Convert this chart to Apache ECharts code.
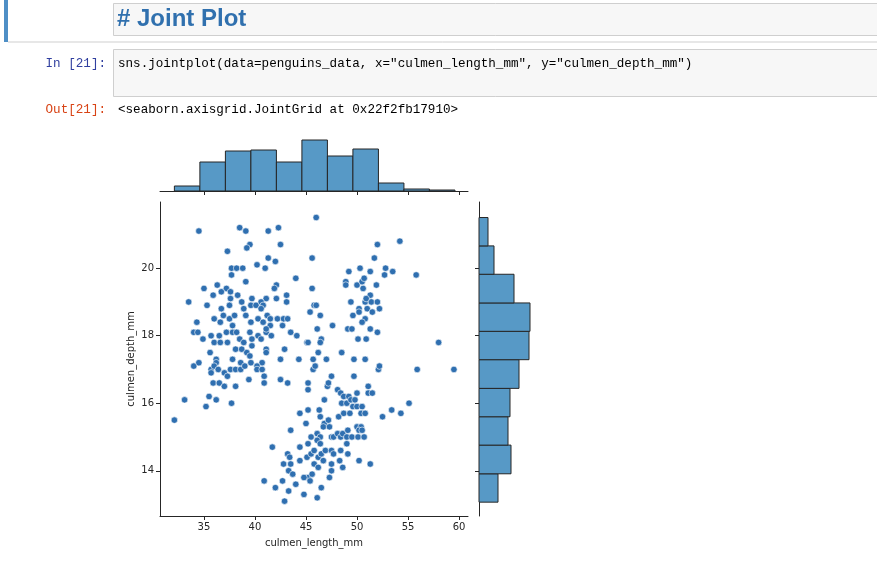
<!DOCTYPE html>
<html>
<head>
<meta charset="utf-8">
<script src="https://cdn.jsdelivr.net/npm/echarts@6/dist/echarts.min.js"></script>
<style>
  html, body { margin: 0; padding: 0; background: #fff; }
  #main { width: 877px; height: 572px; }
</style>
</head>
<body>
<div id="main"></div>
<script>
// culmen_length_mm, culmen_depth_mm
var points = [
  [34.5,21.1],[38.5,21.2],[39.1,21.1],[41.3,21.1],[42.3,21.2],[39.5,20.7],[39.2,20.6],[42.5,20.7],
  [37.3,20.5],[41.3,20.3],[42.0,20.2],[40.2,20.1],[37.7,20.0],[38.2,20.0],[38.8,20.0],[41.0,20.0],
  [37.7,19.8],[44.0,19.7],[39.1,19.6],[42.1,19.5],[41.9,19.4],[35.0,19.4],[36.3,19.5],[37.2,19.4],
  [37.6,19.3],[36.7,19.3],[35.9,19.2],[38.3,19.2],[43.1,19.2],[33.5,19.0],[37.6,19.1],[38.7,19.0],
  [39.7,19.1],[42.1,19.1],[41.1,19.1],[40.6,19.0],[43.1,19.0],[35.3,18.9],[37.5,18.9],[39.6,18.9],
  [40.1,18.9],[40.8,18.9],[36.7,18.8],[38.9,18.8],[40.6,18.8],
  [36.0,18.5],[36.9,18.6],[36.6,18.4],[37.5,18.5],[38.0,18.6],[39.1,18.6],[39.6,18.4],[40.3,18.5],
  [40.8,18.4],[41.2,18.6],[41.5,18.5],[42.2,18.5],[42.8,18.5],[43.2,18.5],[41.5,18.3],[42.7,18.3],
  [34.3,18.4],[34.0,18.1],[34.4,18.1],[35.7,18.0],[36.5,18.0],[37.2,18.1],[37.8,18.1],[38.2,18.1],
  [39.5,18.1],[40.3,18.0],[41.1,18.1],[43.5,18.1],[44.1,18.0],[37.8,18.3],[34.9,17.9],[36.0,17.8],
  [36.6,17.8],[37.3,17.8],[38.5,17.9],[38.9,17.8],[39.7,17.9],[39.7,17.7],[40.6,17.9],[41.6,18.0],
  [41.1,18.2],[45.1,17.8],[35.6,17.5],[38.1,17.6],[38.7,17.6],[39.2,17.5],[41.1,17.6],[41.1,17.5],
  [42.9,17.6],[34.0,17.1],[34.5,17.2],[36.2,17.3],[36.2,17.2],[37.8,17.3],[38.6,17.2],[39.6,17.2],
  [39.5,17.4],[40.7,17.2],[42.5,17.3],[44.3,17.3],[35.7,17.0],[36.0,17.1],[36.4,17.0],[37.6,17.0],
  [38.1,17.0],[38.6,17.0],[39.0,17.1],[40.2,17.1],[40.2,17.0],[40.7,17.0],[35.7,16.9],[37.0,16.9],
  [37.3,16.8],[40.9,16.8],[35.9,16.6],[36.5,16.6],[37.0,16.5],[38.1,16.5],[39.4,16.7],[40.9,16.6],
  [42.5,16.7],[43.2,16.6],[45.2,16.6],[45.2,16.4],[35.5,16.2],[36.2,16.1],[37.7,16.0],[33.1,16.1],
  [35.2,15.9],[32.1,15.5],
  [46.0,21.5],[52.0,20.7],[54.2,20.8],[45.6,20.3],[51.7,20.3],[49.2,19.9],[50.3,20.0],[51.3,19.9],
  [52.8,20.0],[53.5,19.9],[52.7,19.8],[55.8,19.8],[45.6,19.4],[48.9,19.6],[48.9,19.5],[50.0,19.5],
  [50.5,19.6],[50.7,19.7],[50.6,19.4],[51.9,19.5],[49.4,19.0],[50.8,19.0],[51.3,19.2],[51.4,19.0],
  [52.0,19.0],[50.9,19.1],[45.8,18.9],[46.0,18.9],[45.4,18.7],[46.4,18.6],[50.2,18.8],[50.2,18.7],
  [51.0,18.8],[51.5,18.7],[52.2,18.8],[49.6,18.6],[50.8,18.5],[50.5,18.4],[46.1,18.2],[47.6,18.3],
  [49.1,18.2],[49.5,18.2],[51.3,18.2],[52.0,18.1],[50.1,17.9],[50.9,17.9],[45.2,17.8],[46.5,17.9],
  [46.4,17.8],[48.5,17.5],[46.2,17.5],[58.0,17.8],[45.7,17.3],[47.0,17.3],[49.7,17.3],[50.8,17.3],
  [59.5,17.0],[45.7,17.0],[45.9,17.1],[47.5,16.8],[49.7,16.8],[52.1,17.0],[52.2,17.1],[55.9,17.0],
  [47.1,16.5],[47.2,16.6],[48.1,16.4],[48.4,16.3],[48.7,16.2],[49.2,16.2],[50.0,16.3],[51.1,16.5],
  [51.1,16.3],[51.5,16.3],[46.8,16.1],[48.5,16.0],[49.0,16.0],[49.4,16.1],[49.8,16.1],[49.6,15.9],
  [50.0,15.9],[50.5,15.9],[55.1,16.0],[53.4,15.8],[54.3,15.7],[52.5,15.6],[44.4,15.7],[45.2,15.8],
  [46.3,15.8],[46.4,15.6],[48.2,15.6],[48.7,15.7],[49.3,15.7],[50.4,15.7],[50.8,15.7],[45.0,15.4],
  [46.8,15.4],[47.2,15.5],[46.7,15.3],[47.3,15.3],[50.0,15.3],[50.4,15.3],[50.2,15.2],[50.5,15.2],
  [43.5,15.2],[46.1,15.1],[45.5,15.0],[46.4,15.0],[47.5,15.0],[47.7,15.0],[48.1,15.1],[48.4,15.0],
  [48.6,15.1],[49.1,15.2],[49.0,15.0],[49.5,15.0],[50.1,15.0],[50.7,15.0],[41.7,14.7],[44.4,14.7],
  [45.2,14.8],[46.1,14.9],[46.4,14.8],[49.0,14.8],[43.2,14.5],[43.4,14.4],[44.4,14.3],[45.1,14.4],
  [45.5,14.5],[45.8,14.6],[46.2,14.4],[46.5,14.5],[46.9,14.6],[47.5,14.6],[47.7,14.5],[48.4,14.6],
  [49.1,14.5],[42.8,14.2],[43.5,14.2],[45.8,14.2],[46.2,14.1],[46.7,14.3],[47.5,14.2],[48.3,14.3],
  [48.6,14.1],[50.2,14.3],[51.3,14.2],[43.3,14.0],[43.7,13.9],[45.2,13.8],[45.6,13.9],[47.5,14.0],
  [47.3,13.8],[40.9,13.7],[42.0,13.5],[42.7,13.7],[44.0,13.6],[44.8,13.8],[45.4,13.7],[46.5,13.5],
  [43.3,13.4],[44.8,13.3],[46.1,13.2],[42.9,13.1]
];

// marginal histograms
var lengthEdges = [32.1, 34.6, 37.1, 39.6, 42.1, 44.6, 47.1, 49.6, 52.1, 54.6, 57.1, 59.6];
var lengthCounts = [5, 29, 40, 41, 29, 51, 35, 42, 8, 2, 1];
var depthEdges = [13.07, 13.91, 14.76, 15.60, 16.44, 17.29, 18.13, 18.97, 19.82, 20.66, 21.50];
var depthCounts = [19, 32, 29, 31, 40, 50, 51, 35, 15, 9];

var xTicks = [35, 40, 45, 50, 55, 60];
var yTicks = [14, 16, 18, 20];

var histFill = '#5799c6';
var edge = '#262626';
var mono = '"Liberation Mono", "DejaVu Sans Mono", monospace';

var topBins = lengthCounts.map(function (c, i) { return [lengthEdges[i], lengthEdges[i + 1], c]; });
var sideBins = depthCounts.map(function (c, i) { return [depthEdges[i], depthEdges[i + 1], c]; });

var chart = echarts.init(document.getElementById('main'));

var axisLine = { show: true, lineStyle: { color: '#262626', width: 1 } };
var xMin = 30.69, xMax = 60.88, yMin = 12.66, yMax = 21.96;

option = {
  animation: false,
  grid: [
    { left: 160, top: 202, width: 308, height: 314 },
    { left: 160, top: 140, width: 308, height: 51 },
    { left: 479, top: 202, width: 51, height: 314 }
  ],
  xAxis: [
    { gridIndex: 0, type: 'value', min: xMin, max: xMax,
      name: 'culmen_length_mm', nameLocation: 'middle', nameGap: 22,
      nameTextStyle: { color: '#262626', fontSize: 10, fontFamily: 'DejaVu Sans' },
      axisLine: axisLine, splitLine: { show: false },
      axisTick: { show: true, length: 4, customValues: xTicks, lineStyle: { color: '#262626' } },
      axisLabel: { customValues: xTicks, color: '#262626', fontSize: 10, margin: 6, fontFamily: 'DejaVu Sans' } },
    { gridIndex: 1, type: 'value', min: xMin, max: xMax,
      axisLine: axisLine, splitLine: { show: false },
      axisTick: { show: true, length: 4, customValues: xTicks, lineStyle: { color: '#262626' } },
      axisLabel: { show: false } },
    { gridIndex: 2, type: 'value', min: 0, max: 51, show: false }
  ],
  yAxis: [
    { gridIndex: 0, type: 'value', min: yMin, max: yMax,
      name: 'culmen_depth_mm', nameLocation: 'middle', nameGap: 24,
      nameTextStyle: { color: '#262626', fontSize: 10, fontFamily: 'DejaVu Sans' },
      axisLine: axisLine, splitLine: { show: false },
      axisTick: { show: true, length: 4, customValues: yTicks, lineStyle: { color: '#262626' } },
      axisLabel: { customValues: yTicks, color: '#262626', fontSize: 10, margin: 6, fontFamily: 'DejaVu Sans' } },
    { gridIndex: 1, type: 'value', min: 0, max: 51, show: false },
    { gridIndex: 2, type: 'value', min: yMin, max: yMax,
      axisLine: axisLine, splitLine: { show: false },
      axisTick: { show: true, length: 4, customValues: yTicks, lineStyle: { color: '#262626' } },
      axisLabel: { show: false } }
  ],
  series: [
    {
      type: 'scatter', xAxisIndex: 0, yAxisIndex: 0, data: points,
      symbolSize: 6.5,
      itemStyle: { color: '#2f6fb0', borderColor: '#ffffff', borderWidth: 0.6, opacity: 1 }
    },
    {
      type: 'custom', xAxisIndex: 1, yAxisIndex: 1, data: topBins,
      renderItem: function (params, api) {
        var a = api.coord([api.value(0), api.value(2)]);
        var b = api.coord([api.value(1), 0]);
        return { type: 'rect', shape: { x: a[0], y: a[1], width: b[0] - a[0], height: b[1] - a[1] },
          style: { fill: histFill, stroke: edge, lineWidth: 1 } };
      }
    },
    {
      type: 'custom', xAxisIndex: 2, yAxisIndex: 2, data: sideBins,
      renderItem: function (params, api) {
        var a = api.coord([0, api.value(1)]);
        var b = api.coord([api.value(2), api.value(0)]);
        return { type: 'rect', shape: { x: a[0], y: a[1], width: b[0] - a[0], height: b[1] - a[1] },
          style: { fill: histFill, stroke: edge, lineWidth: 1 } };
      }
    }
  ],
  graphic: [
    { type: 'rect', shape: { x: 4, y: 0, width: 4, height: 42 }, style: { fill: '#4f8fc6' } },
    { type: 'line', shape: { x1: 8, y1: 42, x2: 877, y2: 42 }, style: { stroke: '#cfcfcf', lineWidth: 1 } },
    { type: 'rect', shape: { x: 113.5, y: 3.5, width: 770, height: 32 }, style: { fill: '#f7f7f7', stroke: '#cfcfcf', lineWidth: 1 } },
    { type: 'text', x: 117, y: 19, style: { text: '# Joint Plot', fill: '#3070ae', font: 'bold 24px "Liberation Sans", Arial, sans-serif', verticalAlign: 'middle' } },
    { type: 'text', x: 106, y: 64, style: { text: 'In [21]:', fill: '#303f9f', font: '12.6px ' + mono, align: 'right', verticalAlign: 'middle' } },
    { type: 'rect', shape: { x: 113.5, y: 49.5, width: 770, height: 47 }, style: { fill: '#f7f7f7', stroke: '#cfcfcf', lineWidth: 1 } },
    { type: 'text', x: 118, y: 64, style: { text: 'sns.jointplot(data=penguins_data, x="culmen_length_mm", y="culmen_depth_mm")', fill: '#000', font: '12.6px ' + mono, verticalAlign: 'middle' } },
    { type: 'text', x: 106, y: 110, style: { text: 'Out[21]:', fill: '#d84315', font: '12.6px ' + mono, align: 'right', verticalAlign: 'middle' } },
    { type: 'text', x: 118, y: 110, style: { text: '<seaborn.axisgrid.JointGrid at 0x22f2fb17910>', fill: '#000', font: '12.6px ' + mono, verticalAlign: 'middle' } }
  ]
};
chart.setOption(option);
</script>
</body>
</html>
